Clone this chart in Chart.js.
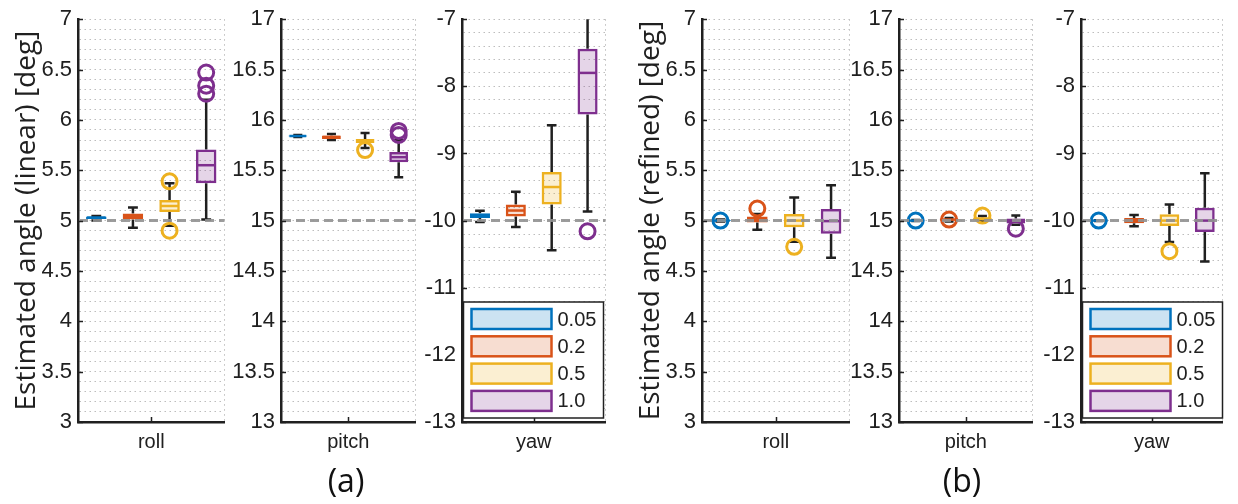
<!DOCTYPE html>
<html>
<head>
<meta charset="utf-8">
<script src="https://cdn.jsdelivr.net/npm/chart.js@4.4.0/dist/chart.umd.min.js"></script>
<style>
  body { margin: 0; background: #fff; width: 1238px; height: 504px; position: relative; overflow: hidden; }
  canvas { position: absolute; top: 0; }
  .cap { position: absolute; top: 458px; font-family: "Open Sans"; font-size: 32px; color: #111; transform: translateX(-50%); line-height: 44px; }
</style>
</head>
<body>
<canvas id="c1" width="235" height="460" style="left:0px"></canvas>
<canvas id="c2" width="205" height="460" style="left:221px"></canvas>
<canvas id="c3" width="214" height="460" style="left:402px"></canvas>
<canvas id="c4" width="236" height="460" style="left:624px"></canvas>
<canvas id="c5" width="204" height="460" style="left:839px"></canvas>
<canvas id="c6" width="212" height="460" style="left:1021px"></canvas>
<div class="cap" style="left:346px">(a)</div>
<div class="cap" style="left:962px">(b)</div>
<script>
const levels = ['0.05', '0.2', '0.5', '1.0'];
const colors = ['#0072BD', '#D95319', '#EDB120', '#7E2F8E'];
const fills = ['rgba(0,114,189,0.2)', 'rgba(217,83,25,0.2)', 'rgba(237,177,32,0.2)', 'rgba(126,47,142,0.2)'];
const angleNames = ['roll', 'pitch', 'yaw'];
const trueAngles = [5, 15, -10];
const yMins = [3, 13, -13];
const yMaxs = [7, 17, -7];
const minorSteps = [0.1, 0.1, 0.2];
const majorSteps = [0.5, 0.5, 1];

// each box: [lower whisker, q1, median, q3, upper whisker]
const linearRoll = [[5.00, 5.015, 5.03, 5.04, 5.045], [4.93, 5.01, 5.045, 5.07, 5.13], [4.95, 5.085, 5.145, 5.205, 5.37], [5.01, 5.37, 5.55, 5.705, 6.20]];
const linearRollOut = [[], [], [5.39, 4.90], [6.47, 6.34, 6.26]];
const linearPitch = [[15.83, 15.835, 15.84, 15.845, 15.85], [15.80, 15.81, 15.83, 15.845, 15.86], [15.72, 15.77, 15.79, 15.81, 15.87], [15.43, 15.58, 15.63, 15.68, 15.80]];
const linearPitchOut = [[], [], [15.70], [15.89, 15.85]];
const linearYaw = [[-10.02, -9.96, -9.925, -9.89, -9.855], [-10.095, -9.94, -9.85, -9.76, -9.57], [-10.44, -9.76, -9.50, -9.275, -8.58], [-9.865, -8.42, -7.80, -7.44, -6.9]];
const linearYawOut = [[], [], [], [-10.16]];
const refinedRoll = [[4.99, 4.995, 5.0, 5.005, 5.01], [4.91, 4.98, 5.01, 5.04, 5.065], [4.79, 4.935, 5.0, 5.065, 5.23], [4.63, 4.87, 4.995, 5.115, 5.35]];
const refinedRollOut = [[5.0], [5.12], [4.74], []];
const refinedPitch = [[14.995, 14.998, 15.0, 15.002, 15.005], [14.99, 15.0, 15.01, 15.02, 15.025], [14.99, 15.0, 15.02, 15.03, 15.045], [14.96, 14.97, 15.0, 15.02, 15.05]];
const refinedPitchOut = [[15.0], [15.01], [15.05], [14.92]];
const refinedYaw = [[-10.005, -10.002, -10.0, -9.998, -9.995], [-10.085, -10.04, -10.0, -9.96, -9.915], [-10.32, -10.08, -10.0, -9.905, -9.76], [-10.61, -10.17, -10.0, -9.81, -9.295]];
const refinedYawOut = [[-10.0], [], [-10.455], []];

const ink = '#202020';
const gridColor = '#bdbdbd';
const tickFont = { family: '"Liberation Sans", Arial', size: 22 };

const panels = [
  { id: 'c1', k: 0, stats: linearRoll, out: linearRollOut, yw: 78, title: 'Estimated angle (linear) [deg]' },
  { id: 'c2', k: 1, stats: linearPitch, out: linearPitchOut, yw: 60 },
  { id: 'c3', k: 2, stats: linearYaw, out: linearYawOut, yw: 60, legend: true },
  { id: 'c4', k: 0, stats: refinedRoll, out: refinedRollOut, yw: 78, title: 'Estimated angle (refined) [deg]' },
  { id: 'c5', k: 1, stats: refinedPitch, out: refinedPitchOut, yw: 60 },
  { id: 'c6', k: 2, stats: refinedYaw, out: refinedYawOut, yw: 60, legend: true }
];

function boxPlugin(p) {
  const k = p.k;
  return {
    id: 'boxes',
    beforeDatasetsDraw(chart) {
      const { ctx, chartArea: a, scales: { y } } = chart;
      const bars = chart.getDatasetMeta(levels.length).data;
      ctx.save();
      ctx.beginPath();
      ctx.rect(a.left, a.top, a.width, a.height);
      ctx.clip();
      ctx.strokeStyle = ink;
      ctx.lineWidth = 2.5;
      bars.forEach((bar, i) => {
        const s = p.stats[i];
        const cw = bar.width * 0.24;
        ctx.beginPath();
        ctx.moveTo(bar.x, y.getPixelForValue(s[3]));
        ctx.lineTo(bar.x, y.getPixelForValue(s[4]));
        ctx.moveTo(bar.x, y.getPixelForValue(s[1]));
        ctx.lineTo(bar.x, y.getPixelForValue(s[0]));
        ctx.moveTo(bar.x - cw, y.getPixelForValue(s[4]));
        ctx.lineTo(bar.x + cw, y.getPixelForValue(s[4]));
        ctx.moveTo(bar.x - cw, y.getPixelForValue(s[0]));
        ctx.lineTo(bar.x + cw, y.getPixelForValue(s[0]));
        ctx.stroke();
      });
      ctx.restore();
    },
    afterDatasetsDraw(chart) {
      const { ctx, chartArea: a, scales: { y } } = chart;
      const bars = chart.getDatasetMeta(levels.length).data;
      ctx.save();
      ctx.lineWidth = 2.5;
      bars.forEach((bar, i) => {
        const ym = y.getPixelForValue(p.stats[i][2]);
        ctx.strokeStyle = colors[i];
        ctx.beginPath();
        ctx.moveTo(bar.x - bar.width / 2 + 1, ym);
        ctx.lineTo(bar.x + bar.width / 2 - 1, ym);
        ctx.stroke();
      });
      // reference (true) angle
      const yt = y.getPixelForValue(trueAngles[k]);
      ctx.strokeStyle = 'rgba(145,145,145,0.9)';
      ctx.lineWidth = 3;
      ctx.setLineDash([9, 5]);
      ctx.beginPath();
      ctx.moveTo(a.left + 1, yt);
      ctx.lineTo(a.right, yt);
      ctx.stroke();
      ctx.restore();
    },
    afterDraw(chart) {
      const { ctx, chartArea: a, scales: { y, x2 } } = chart;
      ctx.save();
      ctx.strokeStyle = ink;
      ctx.lineWidth = 1.5;
      ctx.beginPath();
      for (let v = yMins[k]; v <= yMaxs[k] + 1e-9; v += majorSteps[k]) {
        const py = Math.round(y.getPixelForValue(v)) + 0.5;
        ctx.moveTo(a.left, py);
        ctx.lineTo(a.left + 5, py);
      }
      const px = Math.round(x2.getPixelForValue(2)) + 0.5;
      ctx.moveTo(px, a.bottom);
      ctx.lineTo(px, a.bottom - 5);
      ctx.stroke();

      if (p.legend) {
        const lw = 140, lh = 116;
        const lx = a.left + 1.5, ly = a.bottom - 4 - lh;
        ctx.fillStyle = '#fff';
        ctx.fillRect(lx, ly, lw, lh);
        ctx.lineWidth = 1.5;
        ctx.strokeStyle = ink;
        ctx.strokeRect(lx, ly, lw, lh);
        ctx.font = '20px "Liberation Sans", Arial';
        ctx.textBaseline = 'middle';
        levels.forEach((lv, i) => {
          const cy = ly + 17 + i * 27.3;
          ctx.fillStyle = fills[i];
          ctx.fillRect(lx + 8, cy - 10, 80, 20);
          ctx.strokeStyle = colors[i];
          ctx.lineWidth = 2.5;
          ctx.strokeRect(lx + 8, cy - 10, 80, 20);
          ctx.fillStyle = ink;
          ctx.fillText(lv, lx + 94, cy + 1);
        });
      }
      ctx.restore();
    }
  };
}

function drawPanel(p) {
  const k = p.k;
  const outlierSets = levels.map((lv, i) => ({
    type: 'line',
    showLine: false,
    xAxisID: 'x',
    data: p.out[i].map(v => ({ x: lv, y: v })),
    pointStyle: 'circle',
    pointRadius: 7.5,
    pointBorderWidth: 3,
    pointBorderColor: colors[i],
    pointBackgroundColor: 'rgba(0,0,0,0)',
    order: 0
  }));
  const boxSet = {
    type: 'bar',
    xAxisID: 'x',
    data: p.stats.map(s => [s[1], s[3]]),
    backgroundColor: fills,
    borderColor: colors,
    borderWidth: 2.5,
    borderSkipped: false,
    barPercentage: 0.56,
    categoryPercentage: 1,
    order: 1
  };

  new Chart(document.getElementById(p.id), {
    type: 'bar',
    data: { labels: levels, datasets: [...outlierSets, boxSet] },
    options: {
      responsive: false,
      animation: false,
      events: [],
      layout: { padding: { top: 15, right: 4, left: 0, bottom: 0 } },
      plugins: { legend: { display: false }, tooltip: { enabled: false } },
      scales: {
        x: { type: 'category', display: false, offset: true },
        x2: {
          type: 'linear', position: 'bottom', min: 0, max: 4,
          afterBuildTicks: s => { s.ticks = [{ value: 2 }]; },
          afterFit: s => { s.height = 38; },
          grid: { color: gridColor, lineWidth: 1, drawTicks: false },
          border: { color: ink, width: 2.5, dash: [1.5, 3.5] },
          ticks: { callback: () => angleNames[k], color: ink, font: { family: '"Liberation Sans", Arial', size: 20 }, padding: 8 }
        },
        y: {
          min: yMins[k], max: yMaxs[k],
          afterFit: s => { s.width = p.yw; },
          grid: { color: gridColor, lineWidth: 1, drawTicks: false },
          border: { color: ink, width: 2.5, dash: [1.5, 3.5] },
          ticks: {
            stepSize: minorSteps[k],
            autoSkip: false,
            padding: 6,
            color: ink,
            font: tickFont,
            callback: v => {
              const r = v / majorSteps[k];
              return Math.abs(r - Math.round(r)) < 1e-6 ? String(Math.round(v * 10) / 10) : '';
            }
          },
          title: {
            display: !!p.title,
            text: p.title || '',
            color: ink,
            font: { family: 'Open Sans', size: 28 },
            padding: { top: 10, bottom: 0 }
          }
        }
      }
    },
    plugins: [boxPlugin(p)]
  });
}

panels.forEach(drawPanel);
</script>
</body>
</html>
